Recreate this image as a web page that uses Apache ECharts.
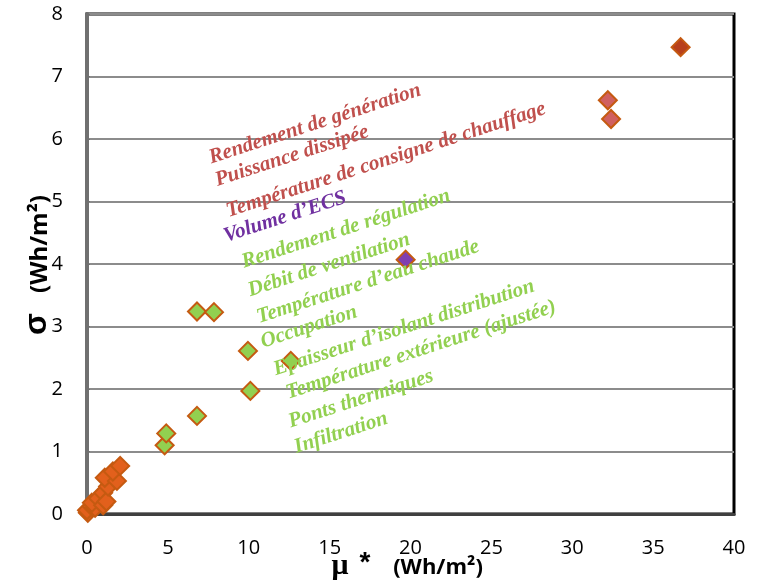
<!DOCTYPE html>
<html lang="fr">
<head>
<meta charset="UTF-8">
<title>Sensibilité</title>
<script src="https://cdn.jsdelivr.net/npm/echarts@6/dist/echarts.min.js"></script>
<style>
  html, body { margin: 0; padding: 0; background: #fff; }
  #chart { width: 758px; height: 582px; }
</style>
</head>
<body>
<div id="chart"></div>
<script>
// valeurs : [mu*, sigma]
var orangePts = [[0.05, 0.02], [0.0, 0.06], [0.3, 0.12], [0.5, 0.1], [0.3, 0.18], [0.7, 0.25],
                 [1.0, 0.14], [1.0, 0.34], [1.2, 0.2], [1.3, 0.44], [1.1, 0.58], [1.85, 0.53],
                 [1.6, 0.68], [2.05, 0.77]];
var greenPts = [[4.8, 1.10], [4.9, 1.29], [6.8, 1.57], [10.1, 1.97], [12.6, 2.45],
                [9.95, 2.61], [6.8, 3.24], [7.85, 3.23]];
var purplePts = [[19.7, 4.07]];
var pinkPts = [[32.2, 6.62], [32.4, 6.32]];
var redPts = [[36.7, 7.47]];

var xTicks = [0, 5, 10, 15, 20, 25, 30, 35, 40];
var yTicks = [0, 1, 2, 3, 4, 5, 6, 7, 8];

var labelTexts = ['Rendement de génération', 'Puissance dissipée', 'Température de consigne de chauffage',
  'Volume d’ECS', 'Rendement de régulation', 'Débit de ventilation', 'Température d’eau chaude',
  'Occupation', 'Epaisseur d’isolant distribution', 'Température extérieure (ajustée)',
  'Ponts thermiques', 'Infiltration'];
var labelGroups = ['r', 'r', 'r', 'p', 'g', 'g', 'g', 'g', 'g', 'g', 'g', 'g'];

// centres des étiquettes (pixels)
var labelPos = [[315, 124], [292, 156], [386, 160], [285, 217], [346, 229], [329, 265],
  [368, 282], [309, 327], [404, 328], [421, 350], [361, 399], [341, 433]];
var groupColor = { r: '#C0504D', p: '#7030A0', g: '#92D050' };

var chart = echarts.init(document.getElementById('chart'));

function serie(data, fill) {
  return {
    type: 'scatter',
    data: data,
    symbol: 'diamond',
    symbolSize: 18,
    itemStyle: { color: fill, borderColor: '#C55A11', borderWidth: 2, opacity: 1 },
    z: 5
  };
}

var graphics = [];
labelTexts.forEach(function (t, i) {
  graphics.push({
    type: 'text',
    x: labelPos[i][0], y: labelPos[i][1],
    rotation: 18 * Math.PI / 180,
    style: {
      text: t,
      fill: groupColor[labelGroups[i]],
      font: 'italic bold 21px "Liberation Serif", serif',
      align: 'center', verticalAlign: 'middle'
    },
    z: 10
  });
});
// titres des axes
graphics.push({
  type: 'text', x: 37, y: 324, rotation: Math.PI / 2,
  style: { text: 'σ', fill: '#000', font: 'bold 32px "Liberation Sans", sans-serif',
           align: 'center', verticalAlign: 'middle' }
});
graphics.push({
  type: 'text', x: 40, y: 244, rotation: Math.PI / 2,
  style: { text: '(Wh/m²)', fill: '#000', font: 'bold 24px "Open Sans", sans-serif',
           align: 'center', verticalAlign: 'middle' }
});
graphics.push({
  type: 'text', x: 340, y: 566,
  style: { text: 'μ', fill: '#000', font: 'bold 30px "Liberation Serif", serif',
           align: 'center', verticalAlign: 'middle' }
});
graphics.push({
  type: 'text', x: 365, y: 563,
  style: { text: '*', fill: '#000', font: 'bold 28px "Liberation Sans", sans-serif',
           align: 'center', verticalAlign: 'middle' }
});
graphics.push({
  type: 'text', x: 438, y: 568,
  style: { text: '(Wh/m²)', fill: '#000', font: 'bold 22px "Open Sans", sans-serif',
           align: 'center', verticalAlign: 'middle' }
});

chart.setOption({
  animation: false,
  grid: { left: 87, right: 24, top: 14, bottom: 68, show: true, borderColor: '#000', borderWidth: 3 },
  xAxis: {
    type: 'value', min: 0, max: 40, interval: 5,
    axisLine: { onZero: false, lineStyle: { color: '#404040', width: 3 } },
    axisTick: { show: false },
    splitLine: { show: false },
    axisLabel: { color: '#000', fontSize: 20, margin: 24, fontFamily: 'Open Sans',
                 formatter: function (v) { return xTicks.indexOf(v) >= 0 ? String(v) : ''; } }
  },
  yAxis: {
    type: 'value', min: 0, max: 8, interval: 1,
    axisLine: { onZero: false, lineStyle: { color: '#707070', width: 4 } },
    axisTick: { show: true, inside: true, length: 3, lineStyle: { color: '#707070' } },
    splitLine: { lineStyle: { color: '#8c8c8c', width: 2 } },
    axisLabel: { color: '#000', fontSize: 20, margin: 24, fontFamily: 'Open Sans',
                 formatter: function (v) { return yTicks.indexOf(v) >= 0 ? String(v) : ''; } }
  },
  series: [
    serie(orangePts, '#E2601C'),
    serie(greenPts, '#92D050'),
    serie(purplePts, '#8040B0'),
    serie(pinkPts, '#D06060'),
    serie(redPts, '#B8401C')
  ],
  graphic: graphics
});
</script>
</body>
</html>
